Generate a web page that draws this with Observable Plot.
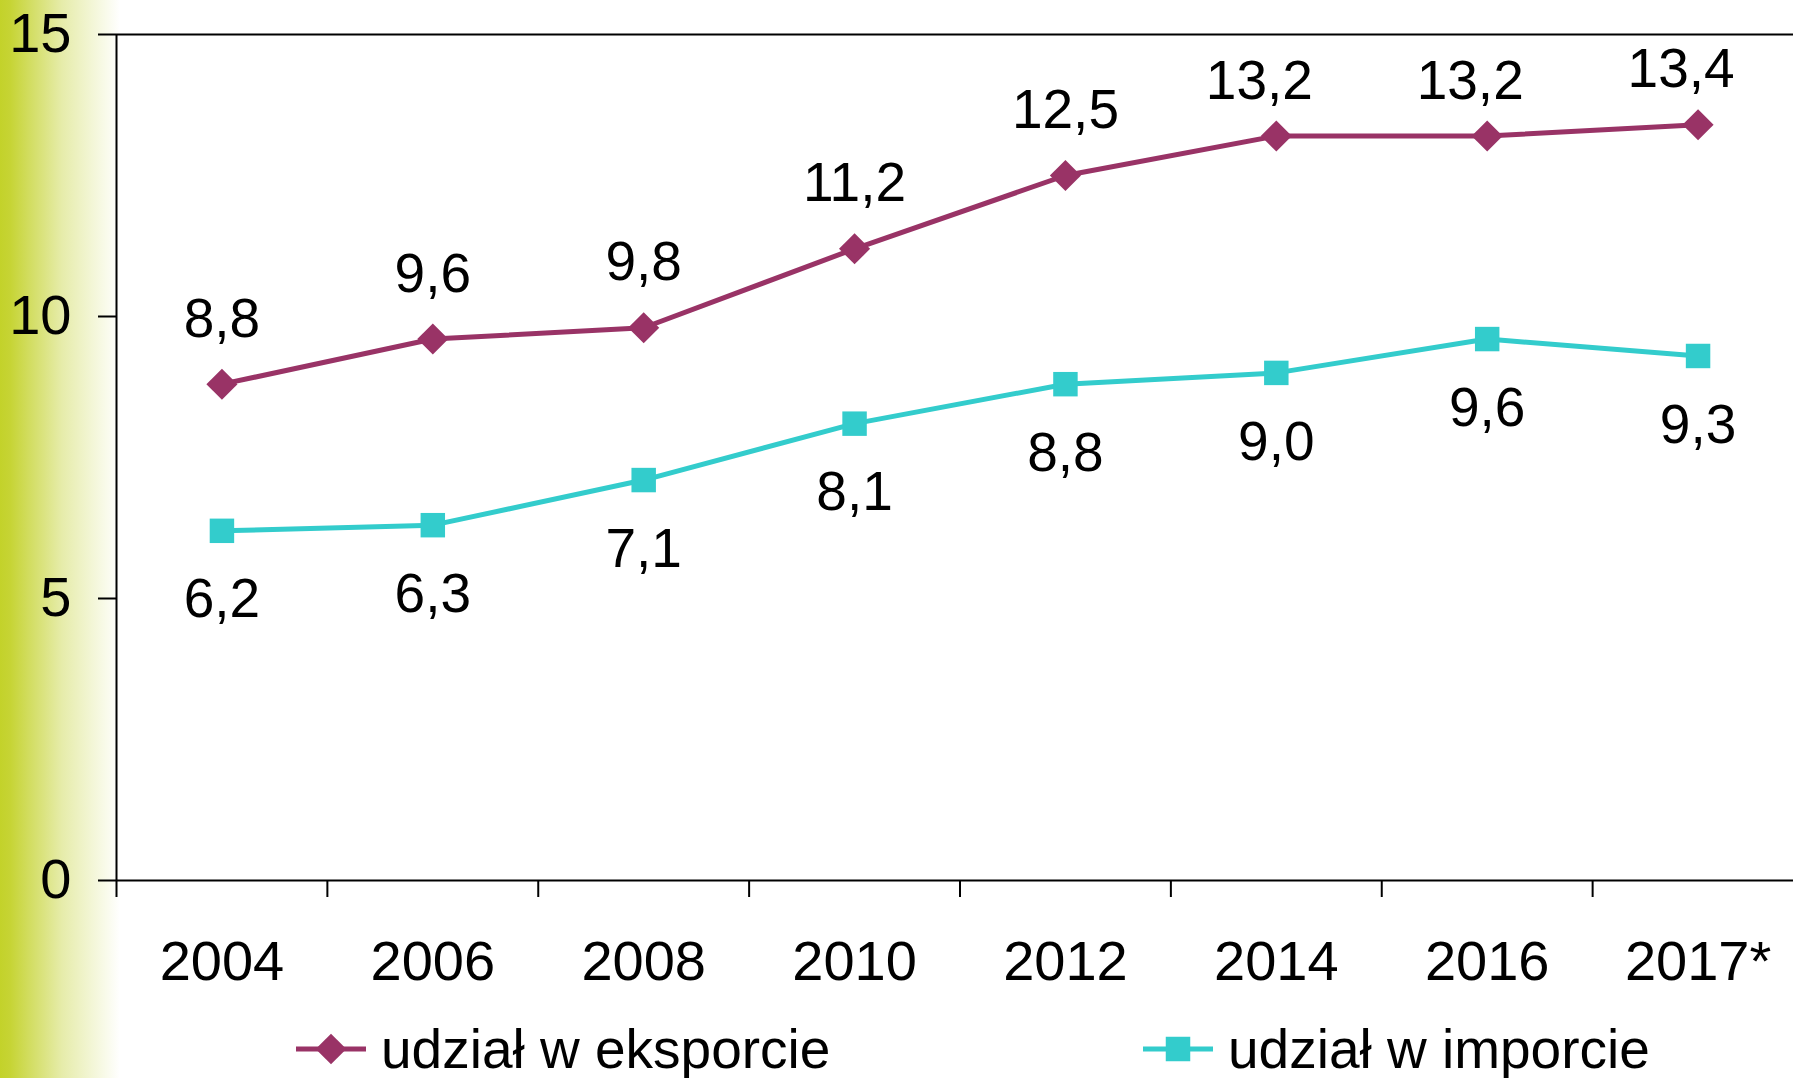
<!DOCTYPE html>
<html>
<head>
<meta charset="utf-8">
<script src="https://cdn.jsdelivr.net/npm/d3@7"></script>
<script src="https://cdn.jsdelivr.net/npm/@observablehq/plot@0.6"></script>
<style>
  html, body { margin: 0; padding: 0; background: #fff; overflow: hidden; }
  #wrap { position: relative; width: 1793px; height: 1078px; overflow: hidden;
    font-family: "Liberation Sans", Arial, sans-serif; color: #000; }
  #grad { position: absolute; left: 0; top: 0; width: 125px; height: 1078px;
    background: linear-gradient(to right, #c3d22a 0px, #c6d434 10px, #e6ecaa 62px, #ffffff 120px); }
  #chart { position: absolute; left: 0; top: 0; width: 1803px; }
  #chart svg { max-width: none !important; }
  .leg { position: absolute; display: flex; align-items: center; font-size: 55px; line-height: 1; white-space: nowrap; }
  .leg svg { display: block; }
</style>
</head>
<body>
<div id="wrap">
  <div id="grad"></div>
  <div id="chart"></div>
  <div id="legend"></div>
</div>
<script>
const years = ["2004", "2006", "2008", "2010", "2012", "2014", "2016", "2017*"];
const eksport = [8.8, 9.6, 9.8, 11.2, 12.5, 13.2, 13.2, 13.4];
const importValues = [6.2, 6.3, 7.1, 8.1, 8.8, 9.0, 9.6, 9.3];
const yTicks = [0, 5, 10, 15];
const seriesNames = ["udział w eksporcie", "udział w imporcie"];
const colors = ["#993366", "#33cccc"];

const idx = years.map((_, i) => i);
const boundaries = idx.map(i => i - 0.5);
const expData = eksport.map((v, i) => ({i, v}));
const impData = importValues.map((v, i) => ({i, v}));
const fmt = v => v.toFixed(1).replace(".", ",");
const FONT = 56;
const LFONT = 55;

const chart = Plot.plot({
  width: 1803,
  height: 1000,
  marginLeft: 116,
  marginRight: 0,
  marginTop: 34,
  marginBottom: 120,
  style: {fontFamily: '"Liberation Sans", Arial, sans-serif', fontSize: FONT + "px", color: "#000", background: "transparent", overflow: "visible", maxWidth: "none"},
  x: {type: "linear", domain: [-0.5, years.length - 0.5]},
  y: {domain: [0, 15]},
  marks: [
    Plot.ruleY([0, 15], {stroke: "#000", strokeWidth: 2}),
    Plot.ruleX([-0.5], {stroke: "#000", strokeWidth: 2}),
    Plot.axisY({ticks: yTicks, tickSize: 18, tickPadding: 27, strokeWidth: 2, fontSize: FONT, tickFormat: d => String(d), label: null}),
    Plot.axisX({ticks: boundaries, tickSize: 17, strokeWidth: 2, tickFormat: () => "", label: null}),
    Plot.axisX({ticks: idx, tickSize: 0, tickPadding: 60, fontSize: FONT, tickFormat: i => years[i], label: null}),
    Plot.line(expData, {x: "i", y: "v", stroke: colors[0], strokeWidth: 5}),
    Plot.line(impData, {x: "i", y: "v", stroke: colors[1], strokeWidth: 5}),
    Plot.dot(expData, {x: "i", y: "v", symbol: "diamond2", r: 14, fill: colors[0], stroke: "none"}),
    Plot.dot(impData, {x: "i", y: "v", symbol: "square", r: 13.8, fill: colors[1], stroke: "none"}),
    Plot.text(expData.filter(d => d.v < 13), {x: "i", y: "v", text: d => fmt(d.v), dy: -65, fontSize: LFONT, fill: "#000"}),
    Plot.text(expData.filter(d => d.v >= 13), {x: "i", y: "v", text: d => fmt(d.v), dy: -55, dx: -17, fontSize: LFONT, fill: "#000"}),
    Plot.text(impData, {x: "i", y: "v", text: d => fmt(d.v), dy: 69, fontSize: LFONT, fill: "#000"})
  ]
});
chart.style.maxWidth = "none";
document.getElementById("chart").appendChild(chart);

// Legend
const legend = document.getElementById("legend");
const legendSpecs = [
  {name: seriesNames[0], color: colors[0], symbol: d3.symbolDiamond2, size: 600, left: 296},
  {name: seriesNames[1], color: colors[1], symbol: d3.symbolSquare, size: 600, left: 1143}
];
legendSpecs.forEach(s => {
  const item = document.createElement("div");
  item.className = "leg";
  item.style.left = s.left + "px";
  item.style.top = "1019px";
  const svg = d3.create("svg").attr("width", 70).attr("height", 60);
  svg.append("line").attr("x1", 0).attr("x2", 70).attr("y1", 30).attr("y2", 30)
    .attr("stroke", s.color).attr("stroke-width", 5);
  svg.append("path").attr("transform", "translate(35,30)")
    .attr("d", d3.symbol(s.symbol, s.size)()).attr("fill", s.color);
  item.appendChild(svg.node());
  const t = document.createElement("span");
  t.textContent = s.name;
  t.style.marginLeft = "15px";
  item.appendChild(t);
  legend.appendChild(item);
});
</script>
</body>
</html>
